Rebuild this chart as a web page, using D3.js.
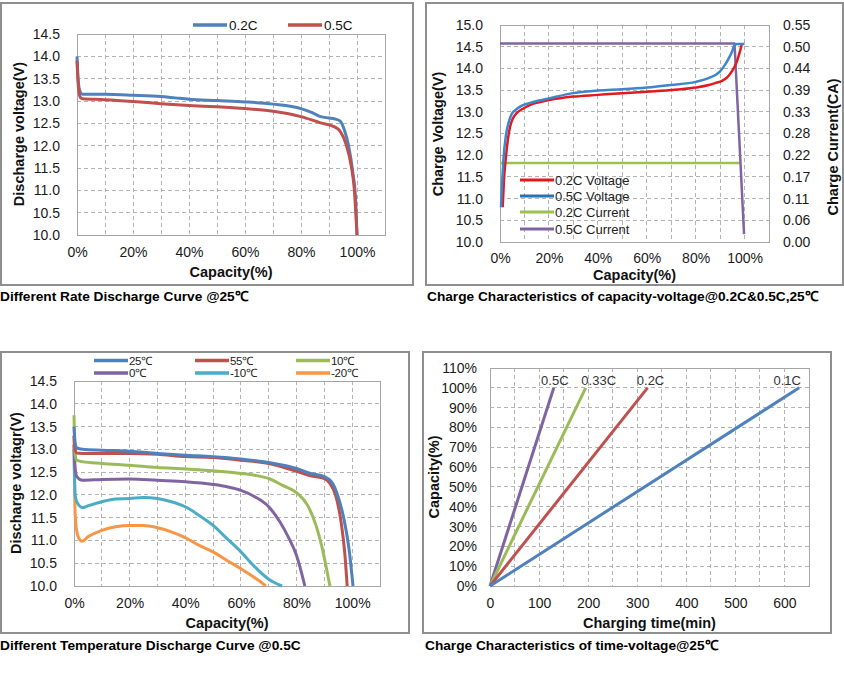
<!DOCTYPE html>
<html><head><meta charset="utf-8">
<script src="https://cdn.jsdelivr.net/npm/d3@7/dist/d3.min.js"></script>
<style>
body{margin:0;background:#fff;}
svg{display:block;font-family:"Liberation Sans",Arial,sans-serif;}
</style></head>
<body><svg id="c" width="844" height="685"></svg>
<script>
// ---------- Panel 1: Different Rate Discharge Curve ----------
const rateNames = ["0.2C", "0.5C"];
const dis02Cap = [0, 0.3, 0.7, 1.2, 2, 10, 20, 30, 35, 40, 50, 60, 70, 80, 84, 87, 90, 92, 94, 95.5, 97, 98.5, 99.5, 100];
const dis02Volt = [14.0, 13.6, 13.3, 13.2, 13.15, 13.15, 13.13, 13.1, 13.07, 13.04, 13.01, 12.98, 12.93, 12.83, 12.74, 12.65, 12.62, 12.6, 12.55, 12.35, 12.0, 11.4, 10.8, 10.0];
const dis05Cap = [0, 0.3, 0.7, 1.2, 2, 10, 20, 30, 40, 50, 60, 70, 80, 87, 92, 94, 96, 98, 99, 100];
const dis05Volt = [13.9, 13.5, 13.2, 13.08, 13.05, 13.03, 12.99, 12.94, 12.9, 12.87, 12.83, 12.77, 12.65, 12.51, 12.42, 12.32, 12.05, 11.53, 11.05, 10.0];
const p1YTicks = [10.0, 10.5, 11.0, 11.5, 12.0, 12.5, 13.0, 13.5, 14.0, 14.5];
const p1XTicks = [0, 20, 40, 60, 80, 100];

// ---------- Panel 2: Charge characteristics capacity-voltage ----------
const chargeNames = ["0.2C Voltage", "0.5C Voltage", "0.2C Current", "0.5C Current"];
const ch02Cap = [1.1, 1.6, 2.4, 3.2, 4.1, 5.3, 6.8, 9, 12, 16, 20, 30, 40, 50, 60, 70, 80, 85, 88, 91, 93, 95, 96, 97, 97.7, 98.3, 98.8];
const ch02Volt = [10.8, 11.4, 11.95, 12.35, 12.65, 12.85, 12.97, 13.06, 13.15, 13.22, 13.27, 13.35, 13.39, 13.43, 13.46, 13.5, 13.56, 13.61, 13.66, 13.72, 13.8, 13.95, 14.05, 14.18, 14.31, 14.43, 14.54];
const ch05Cap = [0.4, 0.8, 1.4, 2.4, 3.5, 4.8, 6.5, 8.2, 12, 16, 20, 30, 40, 50, 60, 70, 80, 85, 89.8, 92, 93.9, 95, 95.9, 97, 100];
const ch05Volt = [10.8, 11.3, 11.9, 12.45, 12.75, 12.95, 13.05, 13.12, 13.2, 13.26, 13.31, 13.43, 13.49, 13.52, 13.56, 13.62, 13.69, 13.77, 13.92, 14.08, 14.27, 14.4, 14.54, 14.56, 14.56];
const cur02Cap = [0, 98];
const cur02CA = [0.2, 0.2];
const cur05Cap = [0, 95.9, 99.8];
const cur05CA = [0.503, 0.503, 0.02];
const p2YTicks = [10.0, 10.5, 11.0, 11.5, 12.0, 12.5, 13.0, 13.5, 14.0, 14.5, 15.0];
const p2RightTickLabels = ["0.00", "0.06", "0.11", "0.17", "0.22", "0.28", "0.33", "0.39", "0.44", "0.50", "0.55"];
const p2XTicks = [0, 20, 40, 60, 80, 100];

// ---------- Panel 3: Different Temperature Discharge Curve ----------
const tempNames = ["25℃", "55℃", "10℃", "0℃", "-10℃", "-20℃"];
const t25Cap = [0, 0.4, 1, 3, 10, 20, 30, 40, 50, 60, 70, 80, 85, 90, 93, 95, 97, 99, 100.3];
const t25Volt = [13.5, 13.15, 13.03, 13.0, 12.98, 12.96, 12.91, 12.87, 12.84, 12.79, 12.71, 12.58, 12.47, 12.4, 12.25, 11.95, 11.48, 10.75, 10.0];
const t55Cap = [0, 0.4, 1, 3, 10, 20, 30, 40, 50, 60, 70, 80, 85, 90, 92, 94, 96, 97.3, 98.2];
const t55Volt = [13.3, 13.0, 12.92, 12.91, 12.91, 12.91, 12.89, 12.84, 12.82, 12.76, 12.69, 12.52, 12.42, 12.36, 12.25, 12.0, 11.41, 10.75, 10.0];
const t10Cap = [0, 0.4, 1, 3, 10, 20, 30, 40, 50, 60, 65, 70, 75, 80, 84, 87, 89, 91, 92];
const t10Volt = [13.75, 12.9, 12.76, 12.73, 12.69, 12.65, 12.6, 12.57, 12.53, 12.47, 12.43, 12.36, 12.21, 12.05, 11.77, 11.33, 10.89, 10.31, 10.0];
const t0Cap = [0, 0.4, 1, 3, 10, 20, 30, 40, 50, 55, 60, 65, 70, 74, 77, 80, 83];
const t0Volt = [13.1, 12.6, 12.4, 12.32, 12.34, 12.35, 12.32, 12.29, 12.23, 12.18, 12.1, 11.96, 11.74, 11.41, 11.08, 10.67, 10.0];
const tm10Cap = [0, 0.4, 1, 3, 5, 10, 15, 20, 25, 30, 35, 40, 45, 50, 55, 60, 65, 70, 74.8];
const tm10Volt = [13.0, 12.0, 11.85, 11.72, 11.76, 11.85, 11.91, 11.92, 11.94, 11.92, 11.85, 11.74, 11.55, 11.33, 11.04, 10.75, 10.42, 10.15, 10.0];
const tm20Cap = [0, 0.4, 1, 2, 3, 5, 10, 15, 20, 25, 30, 35, 40, 45, 50, 55, 60, 65, 69];
const tm20Volt = [13.3, 11.6, 11.2, 11.02, 10.98, 11.08, 11.22, 11.3, 11.33, 11.33, 11.28, 11.19, 11.06, 10.89, 10.75, 10.56, 10.38, 10.18, 10.0];
const p3YTicks = [10.0, 10.5, 11.0, 11.5, 12.0, 12.5, 13.0, 13.5, 14.0, 14.5];
const p3XTicks = [0, 20, 40, 60, 80, 100];

// ---------- Panel 4: Charge characteristics time-capacity ----------
const timeNames = ["0.5C", "0.33C", "0.2C", "0.1C"];
const timeEndMin = [130, 195, 321, 630];
const timeStartCap = [0, 0, 0, 0];
const timeEndCap = [100, 100, 100, 100];
const p4YTicks = [0, 10, 20, 30, 40, 50, 60, 70, 80, 90, 100, 110];
const p4XTicks = [0, 100, 200, 300, 400, 500, 600];

// ================= drawing =================
const svg = d3.select("#c");
const GRID = "#b3b3b3", BORDER = "#a6a6a6", FRAME = "#8f8f8f";

function zipPts(xs, ys) { return xs.map((x, i) => [x, ys[i]]); }

function panel(o) {
  const g = svg.append("g");
  g.append("rect").attr("x", o.frame[0]).attr("y", o.frame[1]).attr("width", o.frame[2]).attr("height", o.frame[3])
    .attr("fill", "#fff").attr("stroke", FRAME).attr("stroke-width", 2);
  const x = d3.scaleLinear().domain(o.xDomain).range([o.plot[0], o.plot[1]]);
  const y = d3.scaleLinear().domain(o.yDomain).range([o.plot[3], o.plot[2]]);
  g.append("g").selectAll("line").data(o.xGrid).join("line")
    .attr("x1", d => x(d)).attr("x2", d => x(d)).attr("y1", o.plot[2]).attr("y2", o.plot[3])
    .attr("stroke", GRID).attr("stroke-width", 1).attr("stroke-dasharray", "4,3").attr("shape-rendering", "crispEdges");
  g.append("g").selectAll("line").data(o.yGrid).join("line")
    .attr("y1", d => y(d)).attr("y2", d => y(d)).attr("x1", o.plot[0]).attr("x2", o.plot[1])
    .attr("stroke", GRID).attr("stroke-width", 1).attr("stroke-dasharray", "4,3").attr("shape-rendering", "crispEdges");
  g.append("rect").attr("x", o.plot[0]).attr("y", o.plot[2]).attr("width", o.plot[1] - o.plot[0]).attr("height", o.plot[3] - o.plot[2])
    .attr("fill", "none").attr("stroke", BORDER).attr("stroke-width", 1).attr("shape-rendering", "crispEdges");
  const ax = g.append("g").attr("transform", `translate(0,${o.plot[3]})`)
    .call(d3.axisBottom(x).tickValues(o.xTicks).tickSize(0).tickPadding(o.xPad).tickFormat(o.xFmt));
  const ay = g.append("g").attr("transform", `translate(${o.plot[0]},0)`)
    .call(d3.axisLeft(y).tickValues(o.yTicks).tickSize(0).tickPadding(o.yPad).tickFormat(o.yFmt));
  [ax, ay].forEach(a => {
    a.select(".domain").remove();
    a.selectAll("text").attr("font-size", 14).attr("fill", "#1a1a1a").attr("font-family", "Liberation Sans, Arial, sans-serif");
  });
  g.append("text").attr("x", (o.plot[0] + o.plot[1]) / 2).attr("y", o.xTitleY).attr("text-anchor", "middle")
    .attr("font-size", 14.5).attr("font-weight", "bold").attr("fill", "#111").text(o.xTitle);
  g.append("text").attr("transform", `translate(${o.yTitleX},${o.yTitleCY}) rotate(-90)`).attr("text-anchor", "middle")
    .attr("font-size", 14.5).attr("font-weight", "bold").attr("fill", "#111").text(o.yTitle);
  g.append("text").attr("x", o.caption[0]).attr("y", o.caption[1]).attr("font-size", 13.7).attr("font-weight", "bold")
    .attr("fill", "#000").text(o.caption[2]);
  return { g, x, y };
}

function drawLine(p, pts, color, width, curve) {
  const line = d3.line().x(d => p.x(d[0])).y(d => p.y(d[1])).curve(curve || d3.curveMonotoneX);
  p.g.append("path").datum(pts).attr("d", line).attr("fill", "none").attr("stroke", color)
    .attr("stroke-width", width).attr("stroke-linejoin", "round").attr("stroke-linecap", "butt");
}

const pctFmt = d => d + "%";
const v1 = d => d3.format(".1f")(d);

// ---- Panel 1 ----
const P1 = panel({
  frame: [1, 3, 412, 282], plot: [77, 385, 34, 235],
  xDomain: [0, 110], yDomain: [10, 14.5],
  xGrid: d3.range(10, 110, 10), yGrid: [10.5, 11, 11.5, 12, 12.5, 13, 13.5, 14],
  xTicks: p1XTicks, xFmt: pctFmt, xPad: 12,
  yTicks: p1YTicks, yFmt: v1, yPad: 17,
  xTitle: "Capacity(%)", xTitleY: 277, yTitle: "Discharge voltage(V)", yTitleX: 24, yTitleCY: 134,
  caption: [0, 301, "Different Rate Discharge Curve @25℃"]
});
const p1Colors = ["#4F81BD", "#C0504D"];
drawLine(P1, zipPts(dis02Cap, dis02Volt), p1Colors[0], 3);
drawLine(P1, zipPts(dis05Cap, dis05Volt), p1Colors[1], 3);
[[193, 227, 229], [288, 322, 324]].forEach((l, i) => {
  P1.g.append("line").attr("x1", l[0]).attr("x2", l[1]).attr("y1", 25).attr("y2", 25).attr("stroke", p1Colors[i]).attr("stroke-width", 3.5);
  P1.g.append("text").attr("x", l[2]).attr("y", 30).attr("font-size", 13.5).attr("fill", "#111").text(rateNames[i]);
});

// ---- Panel 2 ----
const P2 = panel({
  frame: [426, 3, 417, 282], plot: [500, 769, 25, 242],
  xDomain: [0, 110], yDomain: [10, 15],
  xGrid: d3.range(10, 110, 10), yGrid: [10.5, 11, 11.5, 12, 12.5, 13, 13.5, 14, 14.5],
  xTicks: p2XTicks, xFmt: pctFmt, xPad: 11,
  yTicks: p2YTicks, yFmt: v1, yPad: 17,
  xTitle: "Capacity(%)", xTitleY: 280, yTitle: "Charge Voltage(V)", yTitleX: 443, yTitleCY: 134,
  caption: [427, 301, "Charge Characteristics of capacity-voltage@0.2C&0.5C,25℃"]
});
const yCA = d3.scaleLinear().domain([0, 0.55]).range([242, 25]);
const aR = P2.g.append("g").attr("transform", "translate(769,0)")
  .call(d3.axisRight(yCA).tickValues(d3.range(0, 11).map(i => i * 0.055)).tickSize(0).tickPadding(14)
    .tickFormat((d, i) => p2RightTickLabels[i]));
aR.select(".domain").remove();
aR.selectAll("text").attr("font-size", 14).attr("fill", "#1a1a1a");
P2.g.append("text").attr("transform", "translate(838,147) rotate(-90)").attr("text-anchor", "middle")
  .attr("font-size", 14.5).attr("font-weight", "bold").attr("fill", "#111").text("Charge Current(CA)");
const p2Colors = ["#E3191E", "#3E86CC", "#9BC152", "#8064A2"];
const p2Cur = { g: P2.g, x: P2.x, y: yCA };
drawLine(p2Cur, zipPts(cur02Cap, cur02CA), p2Colors[2], 2.5, d3.curveLinear);
drawLine(p2Cur, zipPts(cur05Cap, cur05CA), p2Colors[3], 2.5, d3.curveLinear);
drawLine(P2, zipPts(ch02Cap, ch02Volt), p2Colors[0], 2.5);
drawLine(P2, zipPts(ch05Cap, ch05Volt), p2Colors[1], 2.5);
const p2LegY = [180, 196, 212, 229];
chargeNames.forEach((n, i) => {
  P2.g.append("line").attr("x1", 520).attr("x2", 554).attr("y1", p2LegY[i]).attr("y2", p2LegY[i])
    .attr("stroke", i === 1 ? "#2472B8" : p2Colors[i]).attr("stroke-width", 3);
  P2.g.append("text").attr("x", 555).attr("y", p2LegY[i]).attr("dy", "0.36em").attr("font-size", 13).attr("fill", "#222").text(n);
});

// ---- Panel 3 ----
const P3 = panel({
  frame: [1, 352, 408, 281], plot: [74, 380, 381, 586],
  xDomain: [0, 110], yDomain: [10, 14.5],
  xGrid: d3.range(10, 110, 10), yGrid: [10.5, 11, 11.5, 12, 12.5, 13, 13.5, 14],
  xTicks: p3XTicks, xFmt: pctFmt, xPad: 12,
  yTicks: p3YTicks, yFmt: v1, yPad: 17,
  xTitle: "Capacity(%)", xTitleY: 628, yTitle: "Discharge voltagr(V)", yTitleX: 21, yTitleCY: 483,
  caption: [0, 650, "Different Temperature Discharge Curve @0.5C"]
});
const p3Colors = ["#4F81BD", "#C0504D", "#9BBB59", "#8064A2", "#4BACC6", "#F79646"];
const tempSeries = [[t25Cap, t25Volt], [t55Cap, t55Volt], [t10Cap, t10Volt], [t0Cap, t0Volt], [tm10Cap, tm10Volt], [tm20Cap, tm20Volt]];
[5, 4, 3, 2, 1, 0].forEach(i => drawLine(P3, zipPts(tempSeries[i][0], tempSeries[i][1]), p3Colors[i], 3));
const p3LegX = [94, 195, 296], p3LegY = [360.5, 373];
tempNames.forEach((n, i) => {
  const cx = p3LegX[i % 3], cy = p3LegY[Math.floor(i / 3)];
  P3.g.append("line").attr("x1", cx).attr("x2", cx + 34).attr("y1", cy).attr("y2", cy).attr("stroke", p3Colors[i]).attr("stroke-width", 3.5);
  P3.g.append("text").attr("x", cx + 35).attr("y", cy).attr("dy", "0.36em").attr("font-size", 11.5).attr("letter-spacing", "-0.3")
    .attr("font-family", "Liberation Sans, Arial, sans-serif").attr("fill", "#222").text(n);
});

// ---- Panel 4 ----
const P4 = panel({
  frame: [423, 352, 408, 281], plot: [490, 809, 368, 586],
  xDomain: [0, 650], yDomain: [0, 110],
  xGrid: d3.range(50, 650, 50), yGrid: d3.range(10, 110, 10),
  xTicks: p4XTicks, xFmt: d => d, xPad: 12,
  yTicks: p4YTicks, yFmt: pctFmt, yPad: 13,
  xTitle: "Charging time(min)", xTitleY: 628, yTitle: "Capacity(%)", yTitleX: 439, yTitleCY: 477,
  caption: [425, 650, "Charge Characteristics of time-voltage@25℃"]
});
const p4Colors = ["#8064A2", "#9BBB59", "#C0504D", "#4F81BD"];
const p4LabelDx = [1, 13, 3, -12];
timeNames.forEach((n, i) => {
  drawLine(P4, [[0, timeStartCap[i]], [timeEndMin[i], timeEndCap[i]]], p4Colors[i], 3, d3.curveLinear);
});
[3, 2, 1, 0].forEach(i => {
  P4.g.append("text").attr("x", P4.x(timeEndMin[i]) + p4LabelDx[i]).attr("y", P4.y(timeEndCap[i]) - 3)
    .attr("text-anchor", "middle").attr("font-size", 13).attr("fill", "#333").text(timeNames[i]);
});
</script></body></html>
